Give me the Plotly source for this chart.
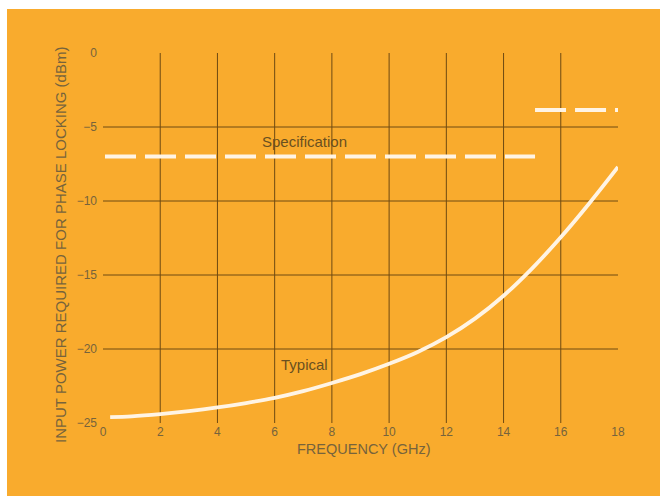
import plotly.graph_objects as go

# Typical input power needed for phase lock
freq_typical = [0.25, 1, 2, 3, 4, 5, 6, 7, 8, 9, 10, 11, 12, 13, 14, 15, 16, 17, 18]
power_typical = [-24.6, -24.55, -24.4, -24.2, -23.95, -23.65, -23.3, -22.85,
                 -22.3, -21.7, -21.0, -20.2, -19.2, -17.95, -16.4, -14.55,
                 -12.45, -10.15, -7.7]

# Specification limits (two bands)
spec_low_freq = [0.07, 15.1]
spec_low_power = [-7.0, -7.0]
spec_high_freq = [15.1, 18.0]
spec_high_power = [-3.85, -3.85]

x_ticks = [0, 2, 4, 6, 8, 10, 12, 14, 16, 18]
y_ticks = [0, -5, -10, -15, -20, -25]
x_grid = [2, 4, 6, 8, 10, 12, 14, 16]
y_grid = [-5, -10, -15, -20]

ORANGE = "#F9AB2D"
GRID = "#6E4A12"
TEXT = "#76633C"
LABEL = "#6A5020"
CURVE = "#FFF4E4"
FONT = "Liberation Sans"

ML, MR, MT, MB = 103, 42, 53, 73
W, H = 660, 496
pw, ph = W - ML - MR, H - MT - MB

fig = go.Figure()

fig.add_trace(go.Scatter(
    x=spec_low_freq, y=spec_low_power, mode="lines",
    line=dict(color=CURVE, width=4, dash="31px,9px"), hoverinfo="skip"))
fig.add_trace(go.Scatter(
    x=spec_high_freq, y=spec_high_power, mode="lines",
    line=dict(color=CURVE, width=4, dash="31px,9px"), hoverinfo="skip"))
fig.add_trace(go.Scatter(
    x=freq_typical, y=power_typical, mode="lines",
    line=dict(color=CURVE, width=3.8, shape="spline", smoothing=1.0),
    hoverinfo="skip"))

shapes = []
# orange card behind everything, leaving a thin white strip top and left
shapes.append(dict(
    type="rect", xref="paper", yref="paper", layer="below",
    x0=(7 - ML) / pw, x1=(W - ML) / pw,
    y0=-(MB) / ph, y1=(H - MB - 9) / ph,
    fillcolor=ORANGE, line=dict(width=0)))
for gx in x_grid:
    shapes.append(dict(type="line", xref="x", yref="y", layer="below",
                       x0=gx, x1=gx, y0=-25, y1=0,
                       line=dict(color=GRID, width=1)))
for gy in y_grid:
    shapes.append(dict(type="line", xref="x", yref="y", layer="below",
                       x0=0, x1=18, y0=gy, y1=gy,
                       line=dict(color=GRID, width=1)))

annotations = [
    dict(x=7.03, y=-6.0, text="Specification", showarrow=False,
         font=dict(family=FONT, size=15, color=LABEL)),
    dict(x=7.06, y=-21.05, text="Typical", showarrow=False,
         font=dict(family=FONT, size=15, color=LABEL)),
    dict(xref="paper", yref="paper", x=(363 - ML) / pw,
         y=-(449 - (H - MB)) / ph,
         text="FREQUENCY (GHz)", showarrow=False,
         xanchor="center", yanchor="middle",
         font=dict(family=FONT, size=14.5, color=TEXT)),
    dict(xref="paper", yref="paper", x=(60 - ML) / pw,
         y=((H - MB) - 245) / ph,
         text="INPUT POWER REQUIRED FOR PHASE LOCKING (dBm)",
         showarrow=False, textangle=-90, xanchor="center", yanchor="middle",
         font=dict(family=FONT, size=15, color=TEXT)),
]

fig.update_layout(
    width=W, height=H,
    margin=dict(l=ML, r=MR, t=MT, b=MB),
    paper_bgcolor="white",
    plot_bgcolor="rgba(0,0,0,0)",
    showlegend=False,
    shapes=shapes,
    annotations=annotations,
    xaxis=dict(range=[0, 18], tickvals=x_ticks, showgrid=False,
               zeroline=False, showline=False, ticks="",
               tickfont=dict(family=FONT, size=12, color=TEXT)),
    yaxis=dict(range=[-25, 0], tickvals=y_ticks,
               ticktext=["0", "\u22125", "\u221210", "\u221215", "\u221220", "\u221225"],
               showgrid=False, zeroline=False, showline=False, ticks="",
               ticklabelstandoff=5,
               tickfont=dict(family=FONT, size=12, color=TEXT)),
)

fig.write_html("out.html")
